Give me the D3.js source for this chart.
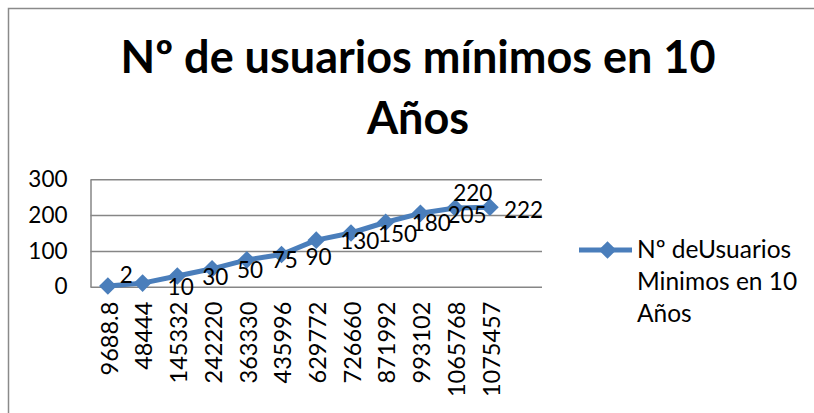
<!DOCTYPE html>
<html>
<head>
<meta charset="utf-8">
<script src="https://cdn.jsdelivr.net/npm/d3@7/dist/d3.min.js"></script>
<style>
  html, body { margin: 0; padding: 0; background: #ffffff; }
  svg { display: block; }
  text { font-family: Lato, "Open Sans", sans-serif; fill: #000; }
</style>
</head>
<body>
<svg id="chart" width="814" height="413"></svg>
<script>
// Users per revenue level (last category slot left empty)
const categories = ["9688.8", "48444", "145332", "242220", "363330", "435996",
                    "629772", "726660", "871992", "993102", "1065768", "1075457", ""];
const values = [2, 10, 30, 50, 75, 90, 130, 150, 180, 205, 220, 222, null];
const yTicks = [0, 100, 200, 300];
const titleLines = ["Nº de usuarios mínimos en 10", "Años"];
const legendLines = ["Nº deUsuarios", "Minimos en 10", "Años"];

// Label placement relative to each point: [dx, dy]
const labelOffsets = [[12, -11], [25, 4], [25, 1], [25, 1], [25, 0], [24, 2],
                      [24, 1], [27, 1], [26, 1], [27, 2], [-2, -15], [14, 3]];

const blue = "#4A7EBB";
const grid = "#868686";
const fs = 23.5;

const svg = d3.select("#chart");

// Outer chart frame
svg.append("rect")
  .attr("x", 8.5).attr("y", 8.5)
  .attr("width", 830).attr("height", 430)
  .attr("fill", "#fff")
  .attr("stroke", "#8a8a8a").attr("stroke-width", 1.5);

// Title
const title = svg.append("text")
  .attr("text-anchor", "middle")
  .style("font-weight", "bold")
  .style("font-size", "45px");
title.selectAll("tspan").data(titleLines).join("tspan")
  .attr("x", 418)
  .attr("y", (d, i) => i === 0 ? 73 : 134)
  .text(d => d);

const plot = { left: 90.5, right: 542, top: 179.3, bottom: 286.7 };

const x = d3.scaleBand()
  .domain(d3.range(categories.length))
  .range([plot.left, plot.right]);

const y = d3.scaleLinear()
  .domain([0, 300])
  .range([plot.bottom, plot.top]);

// Horizontal gridlines
const gridG = svg.append("g")
  .attr("transform", `translate(${plot.left},0)`)
  .call(d3.axisLeft(y).tickValues(yTicks).tickSize(-(plot.right - plot.left)).tickFormat(""));
gridG.select(".domain").remove();
gridG.selectAll(".tick line").attr("stroke", grid).attr("stroke-width", 1.5);

// Y axis line and labels
const yAxis = svg.append("g")
  .attr("transform", `translate(${plot.left},0)`)
  .call(d3.axisLeft(y).tickValues(yTicks).tickSize(0).tickPadding(23));
yAxis.select(".domain").attr("stroke", grid).attr("stroke-width", 1.5);
yAxis.selectAll("text")
  .style("font-size", "22.5px")
  .style("font-family", "Lato, sans-serif")
  .attr("fill", "#000");

// X axis with rotated category labels
const xAxis = svg.append("g")
  .attr("transform", `translate(0,${plot.bottom})`)
  .call(d3.axisBottom(x).tickSize(0).tickFormat(i => categories[i]));
xAxis.select(".domain").remove();
xAxis.selectAll("text")
  .style("font-size", fs + "px")
  .style("font-family", "Lato, sans-serif")
  .attr("fill", "#000")
  .attr("text-anchor", "end")
  .attr("transform", "rotate(-90)")
  .attr("x", -15)
  .attr("y", 1.5)
  .attr("dy", "0.35em");

// Series
const pts = values
  .map((v, i) => ({ v, i }))
  .filter(d => d.v !== null);

const cx = d => x(d.i) + x.bandwidth() / 2;

svg.append("path")
  .datum(pts)
  .attr("fill", "none")
  .attr("stroke", blue)
  .attr("stroke-width", 5)
  .attr("stroke-linejoin", "round")
  .attr("d", d3.line().x(cx).y(d => y(d.v)));

const diamond = d3.symbol(d3.symbolSquare, 156);
svg.append("g").selectAll("path").data(pts).join("path")
  .attr("d", diamond)
  .attr("fill", blue)
  .attr("transform", d => `translate(${cx(d)},${y(d.v)}) rotate(45)`);

// Data labels
svg.append("g").selectAll("text").data(pts).join("text")
  .style("font-size", "22.5px")
  .attr("x", d => cx(d) + labelOffsets[d.i][0])
  .attr("y", d => y(d.v) + labelOffsets[d.i][1])
  .attr("dy", "0.36em")
  .text(d => d.v);

// Legend
const lg = svg.append("g");
lg.append("line")
  .attr("x1", 579).attr("x2", 632)
  .attr("y1", 250).attr("y2", 250)
  .attr("stroke", blue).attr("stroke-width", 5);
lg.append("path")
  .attr("d", diamond)
  .attr("fill", blue)
  .attr("transform", "translate(607.5,250) rotate(45)");
lg.append("text")
  .style("font-size", "24.5px")
  .selectAll("tspan").data(legendLines).join("tspan")
  .attr("x", 637)
  .attr("y", (d, i) => 258 + i * 32)
  .text(d => d);
</script>
</body>
</html>
